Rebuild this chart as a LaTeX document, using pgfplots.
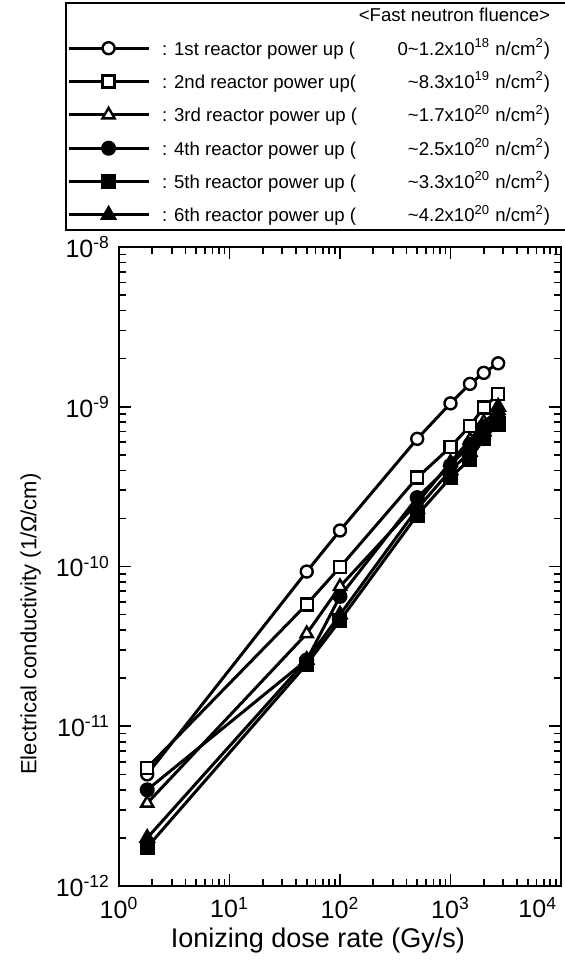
\documentclass[border=0pt]{standalone}
\usepackage{fontspec}
\setmainfont{Liberation Sans}
\usepackage{pgfplots}
\pgfplotsset{compat=1.18}

\pgfplotsset{
  ser/.style={black, line width=1.5pt, mark size=3pt},
}
\newcommand{\lent}[2]{\hspace*{4pt}\makebox[80pt][l]{#1}\makebox[114pt][r]{#2}\hspace*{9pt}}

\begin{document}
\begin{tikzpicture}
\useasboundingbox (-59.5pt,-38pt) rectangle (223pt,443pt);
\begin{axis}[
  xmode=log, ymode=log,
  scale only axis, width=221pt, height=319.5pt,
  xmin=1, xmax=1e4, ymin=1e-12, ymax=1e-8,
  xtick={1,10,100,1000,10000},
  xticklabels={10\textsuperscript{0},10\textsuperscript{1},10\textsuperscript{2},10\textsuperscript{3},\makebox[0pt][r]{10\textsuperscript{4}\hspace*{2pt}}},
  ytick={1e-12,1e-11,1e-10,1e-9,1e-8},
  yticklabels={10\textsuperscript{-12},10\textsuperscript{-11},10\textsuperscript{-10},10\textsuperscript{-9},10\textsuperscript{-8}},
  tick align=inside, major tick length=6pt, minor tick length=3.5pt,
  tick style={line width=0.8pt, black},
  axis line style={line width=1pt},
  tick label style={font=\fontsize{12.5}{14}\selectfont},
  xticklabel style={yshift=-2pt},
  yticklabel style={xshift=-1pt},
  xlabel={Ionizing dose rate (Gy/s)},
  ylabel={Electrical conductivity (1/Ω/cm)},
  xlabel style={at={(axis description cs:0.45,-0.085)}, anchor=center, font=\fontsize{13.5}{15}\selectfont},
  ylabel style={at={(axis description cs:-0.2,0.41)}, anchor=center, font=\fontsize{11}{13}\selectfont},
  legend style={at={(axis description cs:-0.122,1.383)}, anchor=north west,
    draw=black, line width=1pt, font=\fontsize{9.3}{11}\selectfont,
    row sep=2.8pt, inner sep=0.5pt},
  legend cell align=left,
  legend image code/.code={\draw[mark repeat=2,mark phase=2,#1] plot coordinates {(0pt,0pt)(20pt,0pt)(40pt,0pt)};},
]
\addlegendimage{empty legend}
\addlegendentry{\makebox[207pt][r]{<Fast neutron fluence>\hspace*{9pt}}}

\addplot[ser, mark=*, mark options={solid, fill=white, line width=1.2pt}] coordinates {
(1.8,5.0e-12) (50,9.3e-11) (100,1.68e-10) (500,6.3e-10) (1000,1.05e-9) (1500,1.39e-9) (2000,1.63e-9) (2700,1.87e-9)};
\addlegendentry{\lent{: 1st reactor power up (}{0\textasciitilde 1.2x10\textsuperscript{18} n/cm\textsuperscript{2})}}

\addplot[ser, mark=square*, mark options={solid, fill=white, line width=1.2pt}] coordinates {
(1.8,5.5e-12) (50,5.8e-11) (100,9.9e-11) (500,3.6e-10) (1000,5.6e-10) (1500,7.6e-10) (2000,9.9e-10) (2700,1.2e-9)};
\addlegendentry{\lent{: 2nd reactor power up(}{\textasciitilde 8.3x10\textsuperscript{19} n/cm\textsuperscript{2})}}

\addplot[ser, mark=triangle*, mark size=3.5pt, mark options={solid, fill=white, line width=1.2pt}] coordinates {
(1.8,3.3e-12) (50,3.8e-11) (100,7.5e-11) (500,2.5e-10) (1000,4.5e-10) (1500,6.2e-10) (2000,8.0e-10) (2700,9.5e-10)};
\addlegendentry{\lent{: 3rd reactor power up (}{\textasciitilde 1.7x10\textsuperscript{20} n/cm\textsuperscript{2})}}

\addplot[ser, mark=*, mark options={solid, fill=black}] coordinates {
(1.8,4.0e-12) (50,2.6e-11) (100,6.5e-11) (500,2.7e-10) (1000,4.3e-10) (1500,5.8e-10) (2000,7.5e-10) (2700,8.5e-10)};
\addlegendentry{\lent{: 4th reactor power up (}{\textasciitilde 2.5x10\textsuperscript{20} n/cm\textsuperscript{2})}}

\addplot[ser, mark=square*, mark options={solid, fill=black}] coordinates {
(1.8,1.75e-12) (50,2.45e-11) (100,4.6e-11) (500,2.1e-10) (1000,3.6e-10) (1500,4.7e-10) (2000,6.3e-10) (2700,7.8e-10)};
\addlegendentry{\lent{: 5th reactor power up (}{\textasciitilde 3.3x10\textsuperscript{20} n/cm\textsuperscript{2})}}

\addplot[ser, mark=triangle*, mark size=3.5pt, mark options={solid, fill=black}] coordinates {
(1.8,2.0e-12) (50,2.6e-11) (100,5.0e-11) (500,2.3e-10) (1000,4.0e-10) (1500,5.2e-10) (2000,7.0e-10) (2700,1.0e-9)};
\addlegendentry{\lent{: 6th reactor power up (}{\textasciitilde 4.2x10\textsuperscript{20} n/cm\textsuperscript{2})}}
\end{axis}
\end{tikzpicture}
\end{document}
